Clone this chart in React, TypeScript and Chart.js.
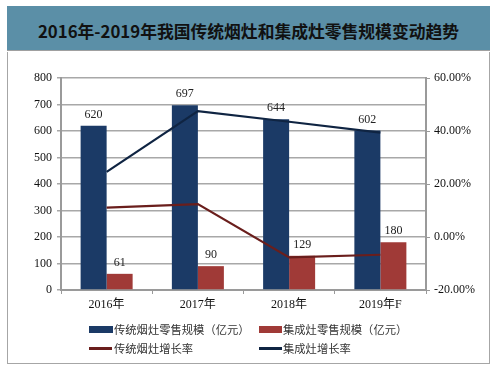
import React, { useEffect, useRef } from "react";
import { Chart, registerables } from "chart.js";

Chart.register(...registerables);

const titleText = "2016年-2019年我国传统烟灶和集成灶零售规模变动趋势";
const categories = ["2016年", "2017年", "2018年", "2019年F"];
const traditionalScale = [620, 697, 644, 602];
const integratedScale = [61, 90, 129, 180];
const traditionalGrowth = [11.1, 12.4, -7.7, -6.7];
const integratedGrowth = [24.6, 47.5, 43.5, 39.4];
const seriesNames = ["传统烟灶零售规模（亿元）", "集成灶零售规模（亿元）", "传统烟灶增长率", "集成灶增长率"];

const BLUE = "#1b3a66";
const RED = "#a03a37";
const LINE_RED = "#6a1e1c";
const LINE_BLUE = "#0f2442";
const AXIS = "#9a9a9a";
const GRID = "#a8a8a8";
const SERIF = '"Liberation Serif", "Noto Sans CJK SC", serif';
const CJK = '"Noto Sans CJK SC", sans-serif';

const barLabels = {
  id: "barLabels",
  afterDatasetsDraw(chart: any) {
    const ctx = chart.ctx;
    ctx.save();
    ctx.font = `12px ${SERIF}`;
    ctx.fillStyle = "#222";
    ctx.textAlign = "center";
    ctx.textBaseline = "middle";
    chart.data.datasets.forEach((ds: any, i: number) => {
      if (ds.type !== "bar") return;
      const meta = chart.getDatasetMeta(i);
      meta.data.forEach((el: any, j: number) => {
        ctx.fillText(String(ds.data[j]), el.x, el.y - 11);
      });
    });
    ctx.restore();
  },
};

export default function App() {
  const ref = useRef<HTMLCanvasElement | null>(null);

  useEffect(() => {
    if (!ref.current) return;
    const tickFont = { family: SERIF, size: 12 };
    const chart = new Chart(ref.current, {
      type: "bar",
      data: {
        labels: categories,
        datasets: [
          {
            type: "bar",
            label: seriesNames[0],
            data: traditionalScale,
            backgroundColor: BLUE,
            yAxisID: "y",
            order: 2,
            categoryPercentage: 0.57,
            barPercentage: 1,
          },
          {
            type: "bar",
            label: seriesNames[1],
            data: integratedScale,
            backgroundColor: RED,
            yAxisID: "y",
            order: 2,
            categoryPercentage: 0.57,
            barPercentage: 1,
          },
          {
            type: "line",
            label: seriesNames[2],
            data: traditionalGrowth,
            borderColor: LINE_RED,
            backgroundColor: LINE_RED,
            borderWidth: 2.2,
            pointRadius: 0,
            tension: 0,
            yAxisID: "y1",
            order: 1,
          },
          {
            type: "line",
            label: seriesNames[3],
            data: integratedGrowth,
            borderColor: LINE_BLUE,
            backgroundColor: LINE_BLUE,
            borderWidth: 2.2,
            pointRadius: 0,
            tension: 0,
            yAxisID: "y1",
            order: 1,
          },
        ] as any,
      },
      options: {
        responsive: false,
        animation: false,
        layout: { padding: { top: 78, left: 0, right: 0, bottom: 50 } },
        plugins: { legend: { display: false }, tooltip: { enabled: false } },
        scales: {
          x: {
            grid: { display: true, drawOnChartArea: false, drawTicks: true, tickLength: 4, color: AXIS, offset: true },
            border: { display: true, color: AXIS, width: 2 },
            ticks: { font: tickFont, color: "#111", padding: 4 },
            afterFit(s: any) {
              s.height = 30;
            },
          },
          y: {
            position: "left",
            min: 0,
            max: 800,
            ticks: { stepSize: 100, font: tickFont, color: "#111", padding: 5 },
            grid: { color: GRID, lineWidth: 1.5, tickLength: 4 },
            border: { display: true, color: AXIS, width: 2 },
            afterFit(s: any) {
              s.width = 61;
            },
          },
          y1: {
            position: "right",
            min: -20,
            max: 60,
            ticks: {
              stepSize: 20,
              font: tickFont,
              color: "#111",
              padding: 4,
              callback: (v: any) => Number(v).toFixed(2) + "%",
            },
            grid: { drawOnChartArea: false, tickLength: 4, color: AXIS },
            border: { display: true, color: AXIS, width: 2 },
            afterFit(s: any) {
              s.width = 68;
            },
          },
        },
      } as any,
      plugins: [barLabels],
    });
    return () => chart.destroy();
  }, []);

  const legendText: React.CSSProperties = {
    position: "absolute",
    fontFamily: CJK,
    fontSize: 11.3,
    lineHeight: "12px",
    color: "#333",
    whiteSpace: "nowrap",
  };

  return (
    <div style={{ position: "absolute", left: 0, top: 0, width: 494, height: 370, background: "#fff", overflow: "hidden" }}>
      <div
        style={{
          position: "absolute",
          left: 7,
          top: 52,
          width: 481,
          height: 311,
          border: "1.5px solid #a6a6a6",
          borderTop: "none",
        }}
      />
      <div
        style={{
          position: "absolute",
          left: 7,
          top: 6,
          width: 483,
          height: 45,
          background: "#5b8fa7",
          borderBottom: "1.5px solid #a0a0a0",
          display: "flex",
          alignItems: "center",
          justifyContent: "center",
          fontFamily: CJK,
          fontWeight: 700,
          fontSize: 16.8,
          color: "#111",
          paddingTop: 5,
          boxSizing: "border-box",
        }}
      >
        {titleText}
      </div>
      <canvas ref={ref} width={494} height={370} style={{ position: "absolute", left: 0, top: 0 }} />
      <div style={{ position: "absolute", left: 89, top: 326, width: 24, height: 7, background: BLUE }} />
      <div style={{ ...legendText, left: 114, top: 323 }}>{seriesNames[0]}</div>
      <div style={{ position: "absolute", left: 259, top: 326, width: 23, height: 7, background: RED }} />
      <div style={{ ...legendText, left: 283, top: 323 }}>{seriesNames[1]}</div>
      <div style={{ position: "absolute", left: 89, top: 347, width: 23, height: 2.5, background: LINE_RED }} />
      <div style={{ ...legendText, left: 114, top: 342 }}>{seriesNames[2]}</div>
      <div style={{ position: "absolute", left: 259, top: 347, width: 23, height: 2.5, background: LINE_BLUE }} />
      <div style={{ ...legendText, left: 283, top: 342 }}>{seriesNames[3]}</div>
    </div>
  );
}
